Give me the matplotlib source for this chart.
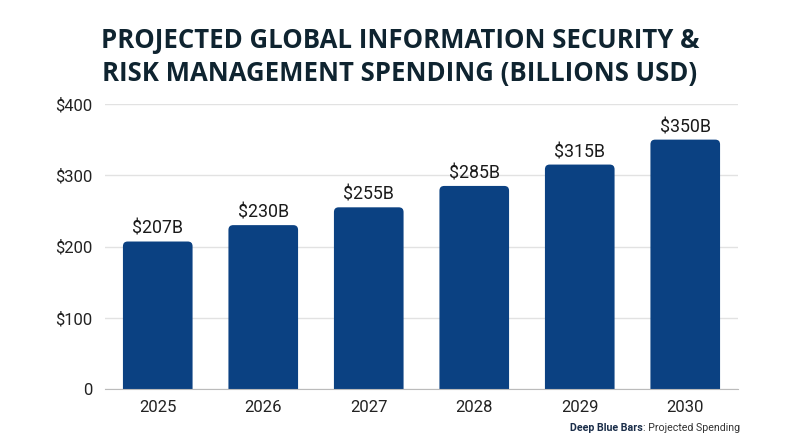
import matplotlib
matplotlib.use("Agg")
import matplotlib.pyplot as plt
from matplotlib.patches import FancyBboxPatch

years = ["2025", "2026", "2027", "2028", "2029", "2030"]
spending = [207, 230, 255, 285, 315, 350]
bar_labels = ["$207B", "$230B", "$255B", "$285B", "$315B", "$350B"]
yticks = [0, 100, 200, 300, 400]
ytick_labels = ["0", "$100", "$200", "$300", "$400"]

BAR = "#0b4182"
W, H = 800, 447
fig = plt.figure(figsize=(8, 4.47), dpi=100)
ax = fig.add_axes([105 / W, 1 - 389 / H, 633 / W, 285 / H])

xs = list(range(len(years)))
bw = 0.66
bars = ax.bar(xs, spending, width=bw, color=BAR, zorder=3)
# replace with rounded-top bars
px_x = 633 / 6.0
px_y = 285 / 400.0
aspect = (1 / px_y) / (1 / px_x)
for b in bars:
    b.set_visible(False)
    x0 = b.get_x()
    h = b.get_height()
    p = FancyBboxPatch((x0, -20), bw, h + 20,
                       boxstyle="round,pad=0,rounding_size=0.045",
                       mutation_aspect=aspect, facecolor=BAR, edgecolor="none",
                       zorder=3, clip_on=True)
    ax.add_patch(p)

for x, v, lab in zip(xs, spending, bar_labels):
    ax.text(x, v + 5, lab, ha="center", va="bottom", fontsize=12.8,
            family="Roboto", color="#1a1a1a", zorder=4)

ax.set_xlim(-0.5, 5.5)
ax.set_ylim(0, 400)
ax.set_yticks(yticks)
ax.set_yticklabels(ytick_labels, family="Roboto", fontsize=12, color="#222222")
ax.set_xticks(xs)
ax.set_xticklabels(years, family="Roboto", fontsize=12, color="#222222")
ax.tick_params(length=0, pad=8)
ax.tick_params(axis="y", pad=9)
ax.grid(axis="y", color="#e2e2e2", linewidth=1, zorder=0)
for s in ["top", "right", "left"]:
    ax.spines[s].set_visible(False)
ax.spines["bottom"].set_color("#bbbbbb")
ax.spines["bottom"].set_zorder(5)

fig.text(0.5, 1 - 41 / H, "PROJECTED GLOBAL INFORMATION SECURITY &",
         ha="center", va="center", fontsize=18.5, fontweight="bold",
         family="Open Sans", color="#0f2430")
fig.text(0.5, 1 - 73 / H, "RISK MANAGEMENT SPENDING (BILLIONS USD)",
         ha="center", va="center", fontsize=18.5, fontweight="bold",
         family="Open Sans", color="#0f2430")

# footer
t2 = fig.text(740 / W, 1 - 428 / H, ": Projected Spending", ha="right", va="center",
              fontsize=7.7, family="Roboto", color="#333333")
fig.canvas.draw()
bb = t2.get_window_extent()
fig.text(bb.x0 / W, 1 - 428 / H, "Deep Blue Bars", ha="right", va="center",
         fontsize=7.7, family="Roboto", fontweight="bold", color="#1b2e4a")

fig.savefig("out.png", dpi=100)
